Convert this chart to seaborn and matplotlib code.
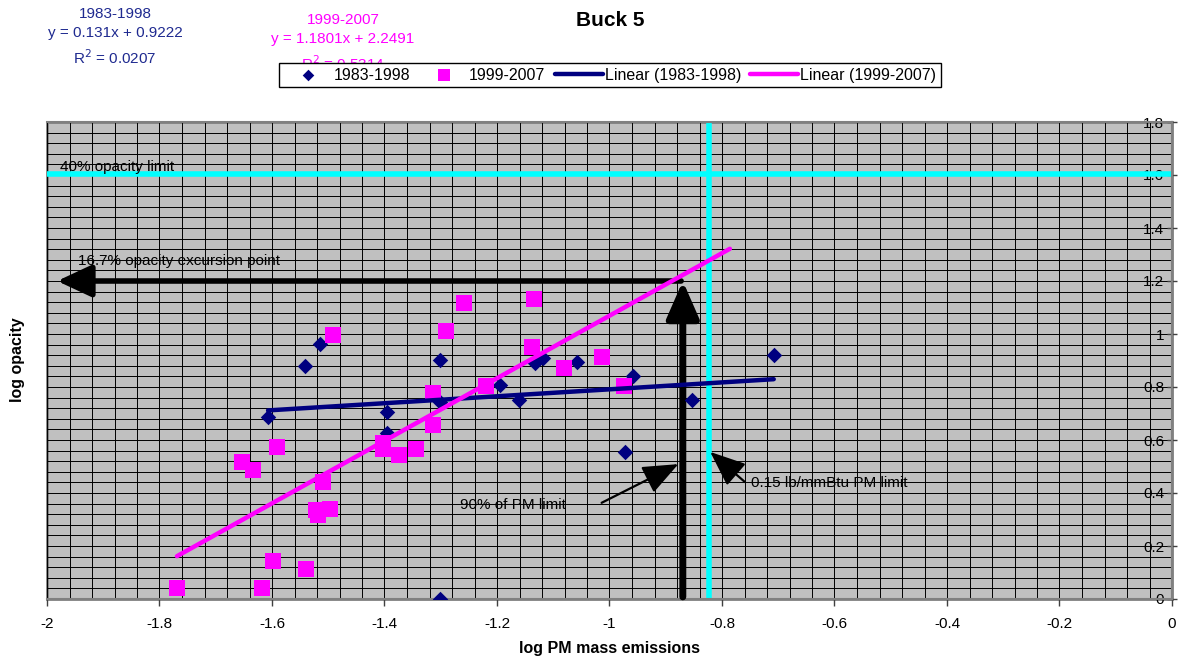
import numpy as np
import pandas as pd
import matplotlib
matplotlib.use("Agg")
import matplotlib.pyplot as plt
import seaborn as sns

# data (log PM mass emissions, log opacity)
x_8398 = [-1.607, -1.541, -1.515, -1.396, -1.396, -1.301, -1.301, -1.301, -1.195,
          -1.160, -1.132, -1.118, -1.058, -0.972, -0.958, -0.853, -0.708]
y_8398 = [0.687, 0.879, 0.962, 0.706, 0.626, 0.902, 0.745, 0.0, 0.808,
          0.751, 0.889, 0.908, 0.893, 0.554, 0.843, 0.751, 0.920]

x_9907 = [-1.769, -1.654, -1.633, -1.618, -1.599, -1.591, -1.540, -1.521, -1.519,
          -1.509, -1.497, -1.492, -1.402, -1.402, -1.374, -1.344, -1.314, -1.313,
          -1.291, -1.259, -1.220, -1.138, -1.135, -1.080, -1.013, -0.974]
y_9907 = [0.042, 0.516, 0.487, 0.040, 0.145, 0.575, 0.112, 0.336, 0.317,
          0.443, 0.340, 0.996, 0.590, 0.565, 0.543, 0.566, 0.658, 0.778,
          1.012, 1.117, 0.804, 0.952, 1.131, 0.871, 0.915, 0.804]

# trendline coefficients shown on the chart
slope_8398, icpt_8398, r2_8398 = 0.131, 0.9222, 0.0207
slope_9907, icpt_9907, r2_9907 = 1.1801, 2.2491, 0.5314
trend_x_8398 = [-1.607, -0.708]
trend_x_9907 = [-1.769, -0.786]

# limits
pm_limit = 0.15          # lb/mmBtu
opacity_limit = 40       # %
excursion_log = 1.2      # 16.7% opacity excursion point as drawn

pm_limit_log = np.log10(pm_limit)
pm90_log = np.log10(0.9 * pm_limit)
opacity_limit_log = np.log10(opacity_limit)

NAVY = "#000080"
MAG = "#FF00FF"
CYAN = "#00FFFF"

sns.set_theme(style="white")
plt.rcParams["font.family"] = ["Liberation Sans", "DejaVu Sans"]
plt.rcParams["axes.unicode_minus"] = False
plt.rcParams["text.color"] = "black"
plt.rcParams["xtick.color"] = "black"
plt.rcParams["ytick.color"] = "black"
plt.rcParams["axes.labelcolor"] = "black"

fig = plt.figure(figsize=(11.86, 6.57), dpi=100)
ax = fig.add_axes([47 / 1186, 1 - 599 / 657, 1125 / 1186, 477 / 657])
ax.set_facecolor("#C0C0C0")

df1 = pd.DataFrame({"x": x_8398, "y": y_8398})
df2 = pd.DataFrame({"x": x_9907, "y": y_9907})
t1 = pd.DataFrame({"x": trend_x_8398})
t1["y"] = slope_8398 * t1["x"] + icpt_8398
t2 = pd.DataFrame({"x": trend_x_9907})
t2["y"] = slope_9907 * t2["x"] + icpt_9907

# reference lines
ax.axhline(opacity_limit_log, color=CYAN, lw=4, zorder=2)
ax.axvline(pm_limit_log, color=CYAN, lw=4, zorder=2)

# arrows
ax.annotate("", xy=(-1.982, excursion_log), xytext=(pm90_log - 0.003, excursion_log),
            arrowprops=dict(arrowstyle="-|>,head_length=0.75,head_width=0.35",
                            mutation_scale=28, lw=4, color="black", shrinkA=0, shrinkB=0),
            zorder=3)
ax.annotate("", xy=(pm90_log, excursion_log), xytext=(pm90_log, 0.008),
            arrowprops=dict(arrowstyle="-|>,head_length=0.8,head_width=0.35",
                            mutation_scale=28, lw=5, color="black", shrinkA=0, shrinkB=0),
            zorder=3)

sns.scatterplot(data=df1, x="x", y="y", marker="D", s=62, color=NAVY, linewidth=0,
                label="1983-1998", legend=False, ax=ax, zorder=4)
sns.scatterplot(data=df2, x="x", y="y", marker="s", s=125, color=MAG, linewidth=0,
                label="1999-2007", legend=False, ax=ax, zorder=4)
sns.lineplot(data=t1, x="x", y="y", color=NAVY, lw=3.2, label="Linear (1983-1998)",
             legend=False, ax=ax, zorder=5)
sns.lineplot(data=t2, x="x", y="y", color=MAG, lw=3.2, label="Linear (1999-2007)",
             legend=False, ax=ax, zorder=5)

ax.annotate("", xy=(pm90_log - 0.008, 0.509), xytext=(-1.014, 0.363),
            arrowprops=dict(arrowstyle="-|>,head_length=1.1,head_width=0.45",
                            mutation_scale=20, lw=1.6, color="black", shrinkA=0, shrinkB=0),
            zorder=6)
ax.annotate("", xy=(pm_limit_log + 0.003, 0.555), xytext=(-0.759, 0.441),
            arrowprops=dict(arrowstyle="-|>,head_length=1.1,head_width=0.45",
                            mutation_scale=20, lw=1.6, color="black", shrinkA=0, shrinkB=0),
            zorder=6)

ax.text(-1.977, 1.63, "40% opacity limit", fontsize=11, va="center", ha="left", zorder=6)
ax.text(-1.945, 1.275, "16.7% opacity excursion point", fontsize=11, va="center",
        ha="left", zorder=6)
ax.text(-1.266, 0.355, "90% of PM limit", fontsize=11, va="center", ha="left", zorder=6)
ax.text(-0.748, 0.438, "0.15 lb/mmBtu PM limit", fontsize=11, va="center", ha="left",
        zorder=6)

# axes
ax.set_xlim(-2, 0)
ax.set_ylim(0, 1.8)
ax.set_xticks(np.round(np.arange(-2, 0.01, 0.2), 1))
ax.set_yticks(np.round(np.arange(0, 1.81, 0.2), 1))
ax.set_xticks(np.arange(-2, 0.001, 0.04), minor=True)
ax.set_yticks(np.arange(0, 1.801, 0.04), minor=True)
fmt = matplotlib.ticker.FuncFormatter(lambda v, p: f"{round(v, 1) + 0.0:g}")
ax.xaxis.set_major_formatter(fmt)
ax.yaxis.set_major_formatter(fmt)
ax.grid(which="both", color="black", lw=0.7)
ax.set_axisbelow(True)

ax.spines["left"].set_position(("axes", 1.0))
for s in ["left", "right", "top", "bottom"]:
    ax.spines[s].set_color("#808080")
    ax.spines[s].set_linewidth(1.5)
ax.patch.set_edgecolor("#808080")
ax.patch.set_linewidth(2)
ax.tick_params(axis="y", which="major", direction="inout", length=7, width=1,
               color="#404040", labelsize=11, pad=2, left=True)
ax.tick_params(axis="x", which="major", direction="out", length=5, width=1,
               color="#404040", labelsize=11, pad=8, bottom=True)
ax.tick_params(which="minor", length=0)

ax.set_xlabel("log PM mass emissions", fontsize=11.5, fontweight="bold", labelpad=7)
ax.set_ylabel("")
fig.text(18 / 1186, 1 - 360 / 657, "log opacity", rotation=90, fontsize=11.5,
         fontweight="bold", ha="center", va="center")

fig.text(610 / 1186, 1 - 20 / 657, "Buck 5", fontsize=15, fontweight="bold",
         ha="center", va="center")

# trendline equations (behind legend)
eq1 = f"1983-1998\ny = {slope_8398}x + {icpt_8398}\nR$^2$ = {r2_8398}"
eq2 = f"1999-2007\ny = {slope_9907}x + {icpt_9907}\nR$^2$ = {r2_9907}"
ax.text(115 / 1186, 1 - 37 / 657, eq1, transform=fig.transFigure, color="#1F2A90",
        fontsize=11, ha="center", va="center", linespacing=1.5, clip_on=False, zorder=1)
ax.text(343 / 1186, 1 - 43 / 657, eq2, transform=fig.transFigure, color=MAG,
        fontsize=11, ha="center", va="center", linespacing=1.5, clip_on=False, zorder=1)

handles, labels = ax.get_legend_handles_labels()
order = ["1983-1998", "1999-2007", "Linear (1983-1998)", "Linear (1999-2007)"]
hmap = dict(zip(labels, handles))
leg = ax.legend([hmap[k] for k in order], order, loc="center", bbox_to_anchor=(0.5004, 1.0985),
                ncol=4, fontsize=11.5, frameon=True, fancybox=False, edgecolor="black",
                framealpha=1, handlelength=3, handletextpad=0.1, columnspacing=0.6,
                borderpad=0.3, markerscale=0.75)
leg.get_frame().set_linewidth(1)
leg.set_zorder(10)

fig.savefig("out.png", dpi=100)
